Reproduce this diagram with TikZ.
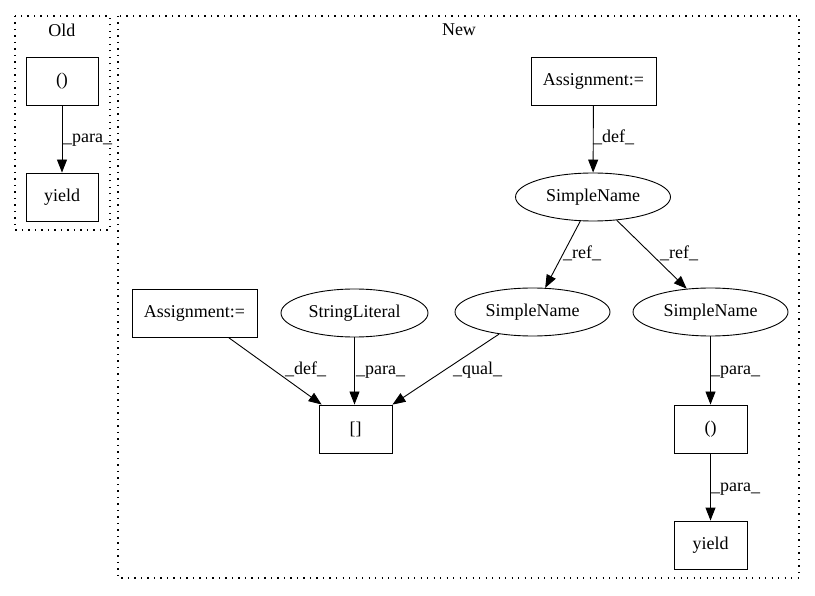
\documentclass[tikz,border=0pt]{standalone}
\usepackage{fontspec}
\setmainfont{Liberation Serif}
\usetikzlibrary{shapes.geometric,arrows.meta}
\begin{document}
\begin{tikzpicture}[x=1pt,y=-1pt,
  every node/.style={font=\fontsize{18}{20}\selectfont},
  box/.style={draw,line width=0.9pt,rectangle,minimum height=48pt,inner sep=0pt},
  ell/.style={draw,line width=0.9pt,ellipse,minimum height=48pt,inner sep=0pt},
  lbl/.style={anchor=base west,inner sep=0pt},
  cluster/.style={line width=1.1pt,dash pattern=on 1.3pt off 5.2pt},
  edge/.style={line width=0.9pt,-{Triangle[length=13pt,width=10pt]}}]
\useasboundingbox (0,0) rectangle (815,596);
% clusters
\draw[cluster] (15,16) rectangle (110,230);
\node (oldt) at (62,30) {Old};
\draw[cluster] (118,16) rectangle (799,578);
\node (newt) at (459,30) {New};
% Old nodes
\node[box,minimum width=72pt] (o1) at (62,81) {()};
\node[box,minimum width=72pt] (o2) at (62,197) {yield};
% New nodes
\node[box,minimum width=125pt] (a1) at (593.5,81) {Assignment:=};
\node[ell,minimum width=155pt] (s1) at (593,197) {SimpleName};
\node[ell,minimum width=155pt] (s2) at (532.5,312) {SimpleName};
\node[ell,minimum width=155pt] (s3) at (710.5,312) {SimpleName};
\node[box,minimum width=125pt] (a2) at (194.5,313) {Assignment:=};
\node[ell,minimum width=147pt] (sl) at (354.5,313) {StringLiteral};
\node[box,minimum width=73pt] (br) at (355.5,429) {[]};
\node[box,minimum width=73pt] (p1) at (710.5,429) {()};
\node[box,minimum width=73pt] (y1) at (710.5,545) {yield};
% edges
\draw[edge] (o1) -- (o2);
\draw[edge] (a1) -- (s1);
\draw[edge] (s1) -- (s2);
\draw[edge] (s1) -- (s3);
\draw[edge] (a2) -- (br);
\draw[edge] (sl.south) -- (sl.south |- br.north);
\draw[edge] (s2) -- (br);
\draw[edge] (s3) -- (p1);
\draw[edge] (p1) -- (y1);
% labels
\node[lbl] (l1) at (63,143) {\_para\_};
\node[lbl] (l2) at (593,143) {\_def\_};
\node[lbl] (l3) at (563,259) {\_ref\_};
\node[lbl] (l4) at (660,259) {\_ref\_};
\node[lbl] (l5) at (285,375) {\_def\_};
\node[lbl] (l6) at (356,375) {\_para\_};
\node[lbl] (l7) at (453,375) {\_qual\_};
\node[lbl] (l8) at (711,375) {\_para\_};
\node[lbl] (l9) at (711,491) {\_para\_};
\end{tikzpicture}
\end{document}
